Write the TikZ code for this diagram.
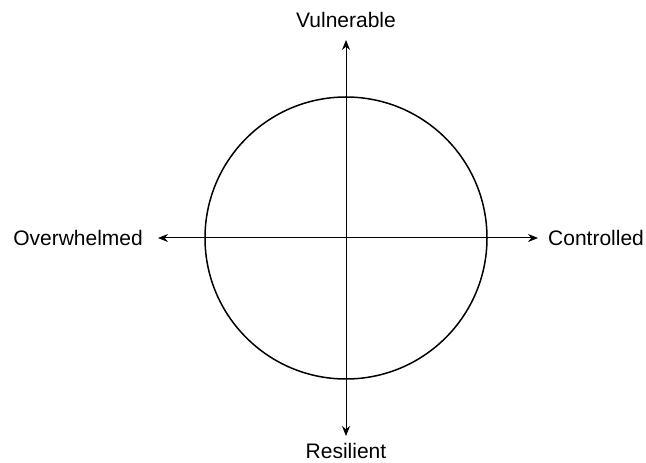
\documentclass[tikz,border=0pt]{standalone}
\usepackage{fontspec}
\setmainfont{Liberation Sans}
\usetikzlibrary{arrows.meta}
\begin{document}
\begin{tikzpicture}[x=1pt,y=1pt,
  axis/.style={line width=1pt,-{Stealth[length=10pt,width=8pt]}},
  lbl/.style={font=\fontsize{21}{24}\selectfont,inner sep=0pt}]
\useasboundingbox (0,0) rectangle (646,463);
\coordinate (c) at (346,225);
\node[draw,circle,line width=1.5pt,minimum size=282pt,inner sep=0pt] (circ) at (c) {};
\coordinate (t) at (346,423);
\coordinate (b) at (346,27);
\coordinate (l) at (158,225);
\coordinate (r) at (538,225);
\draw[axis] (c) -- (t);
\draw[axis] (c) -- (b);
\draw[axis] (c) -- (l);
\draw[axis] (c) -- (r);
\node[lbl,anchor=base] (vul) at (346,435) {Vulnerable};
\node[lbl,anchor=base] (res) at (346,4) {Resilient};
\node[lbl,anchor=base east] (ovr) at (143,217) {Overwhelmed};
\node[lbl,anchor=base west] (con) at (548,217) {Controlled};
\end{tikzpicture}
\end{document}
